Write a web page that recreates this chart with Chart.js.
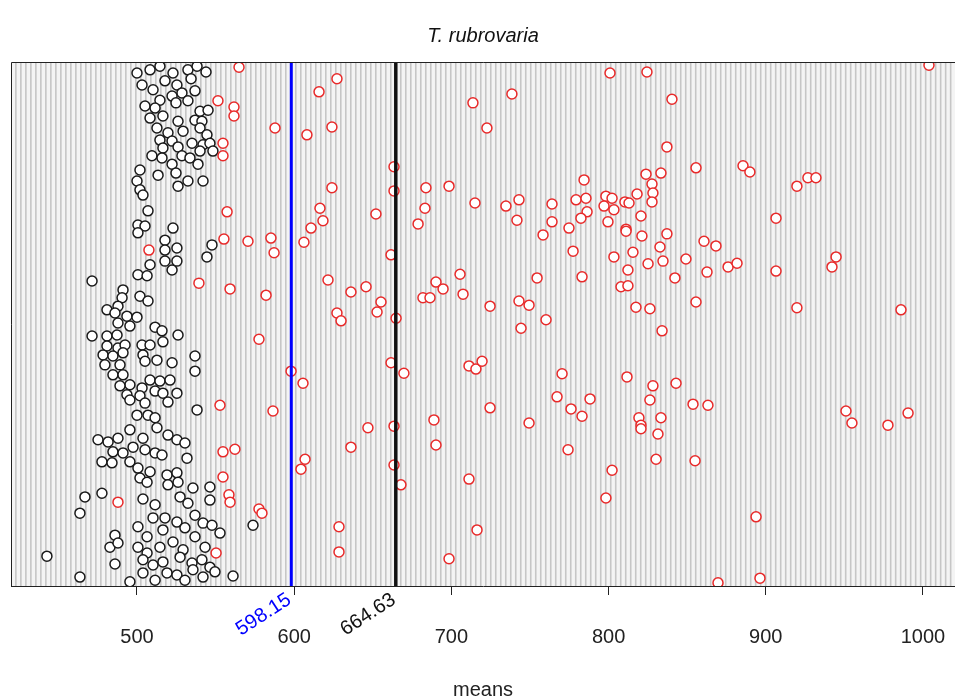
<!DOCTYPE html>
<html>
<head>
<meta charset="utf-8">
<script src="https://cdn.jsdelivr.net/npm/chart.js@4.4.1/dist/chart.umd.min.js"></script>
<style>
  html, body { margin: 0; padding: 0; background: #ffffff; }
  #wrap { width: 955px; height: 700px; }
</style>
</head>
<body>
<div id="wrap"><canvas id="chart" width="955" height="700"></canvas></div>
<script>
// Means of the retained draws (black) and of the rejected draws (red); idx is the draw's vertical slot.
const blackMeans = [
  500.0,508.3,514.6,522.9,532.4,538.2,543.9,503.2,510.2,517.8,525.4,534.4,528.6,536.9,514.6,522.3,
  505.1,511.5,524.8,532.4,540.1,545.2,508.3,516.5,526.1,536.9,541.3,512.7,519.7,529.3,540.1,544.5,
  514.6,522.3,535.0,542.0,546.4,516.5,526.1,540.1,548.3,509.5,515.9,522.3,528.6,533.7,538.8,513.4,
  524.8,532.4,542.0,526.1,501.9,500.0,501.9,503.8,507.0,500.6,505.1,522.9,500.6,517.8,525.4,547.7,
  544.5,517.8,517.8,525.4,522.3,508.3,500.6,506.4,471.4,491.1,490.5,501.9,507.0,480.9,487.9,493.6,
  500.0,486.0,487.9,495.5,471.4,480.9,487.3,511.5,515.9,526.1,516.5,480.9,487.9,492.4,503.2,508.3,
  478.4,484.7,491.1,503.8,512.7,505.1,479.6,489.2,522.3,536.9,536.9,484.7,491.1,508.3,514.6,521.0,
  495.5,489.2,503.2,511.5,525.4,516.5,501.9,493.6,495.5,505.1,519.7,538.2,500.0,507.0,511.5,495.5,
  503.8,512.7,519.7,525.4,530.5,475.2,481.6,487.9,484.7,491.1,497.5,505.1,511.5,515.9,477.7,484.1,
  495.5,500.6,508.3,519.1,525.4,531.8,501.9,506.4,519.7,526.1,535.6,546.4,466.9,477.7,463.7,503.8,
  511.5,527.4,532.4,546.4,510.2,517.8,525.4,536.9,542.0,500.6,506.4,516.5,530.5,547.7,552.8,486.0,
  482.8,487.9,500.6,506.4,514.6,522.9,529.3,536.9,543.3,442.7,486.0,503.8,510.2,516.5,527.4,535.0,
  541.3,546.4,463.7,495.5,503.8,511.5,519.1,525.4,530.5,535.6,542.0,549.6,561.1,573.8
];
const blackIdx = [
  97.9,98.5,99.2,97.9,98.5,99.2,98.1,95.6,94.7,96.4,95.6,96.8,94.1,94.5,92.7,93.5,
  91.6,91.2,92.2,92.6,90.6,90.8,89.3,89.7,88.7,88.9,88.7,87.4,86.5,86.8,87.4,86.1,
  85.1,84.9,84.5,84.2,84.5,83.6,83.8,83.0,83.0,82.1,81.7,80.5,82.1,81.7,80.5,78.4,
  78.8,77.3,77.3,76.3,79.4,77.3,75.6,74.6,71.6,68.9,68.7,68.3,67.4,66.0,64.5,65.1,
  62.8,64.1,62.0,62.0,60.3,61.3,59.4,59.2,58.2,56.5,55.0,55.3,54.4,52.7,53.4,51.5,
  51.3,52.1,50.2,49.6,47.7,47.7,47.9,49.4,48.7,47.9,46.6,45.8,45.4,46.0,46.0,46.0,
  44.1,43.9,44.5,44.1,43.1,42.9,42.2,42.2,42.6,43.9,41.0,40.3,40.3,39.3,39.1,39.3,
  38.4,38.2,37.8,37.2,36.8,36.8,36.3,36.5,35.5,34.9,35.1,33.6,32.6,32.6,32.1,29.8,
  28.2,30.2,28.8,27.9,27.3,27.9,27.5,28.2,25.6,25.4,26.5,26.0,25.4,25.0,23.7,23.5,
  23.7,22.5,21.8,21.2,21.6,24.4,20.6,19.8,19.3,19.8,18.7,18.9,17.0,17.7,13.9,16.6,
  15.5,17.0,15.8,16.4,13.0,13.0,12.2,13.5,12.0,11.3,9.4,10.7,11.1,11.6,10.1,9.7,
  7.4,8.2,7.4,6.3,7.4,8.4,6.9,9.4,7.4,5.7,4.2,5.0,4.0,4.6,5.5,4.4,
  5.0,3.6,1.7,0.8,2.5,1.1,2.5,2.1,1.1,3.1,1.7,2.7,1.9,11.6
];
const redMeans = [
  564.9,551.5,561.7,561.7,587.8,608.1,554.7,554.7,557.3,555.3,570.6,585.2,587.2,606.2,610.7,616.4,
  507.6,539.4,559.2,582.1,577.6,598.0,605.6,552.8,586.5,554.7,562.3,606.9,604.3,554.7,558.5,559.2,
  487.9,577.6,579.5,550.3,627.2,615.8,624.0,713.7,738.5,722.6,800.9,663.5,663.5,624.0,683.8,698.5,
  683.2,678.8,618.3,652.0,715.0,734.7,743.0,741.7,764.0,764.0,758.3,774.8,784.4,779.3,785.6,786.3,
  782.4,777.4,798.3,802.2,797.1,803.4,799.6,810.4,811.1,803.4,812.3,807.9,661.6,621.5,636.1,645.7,
  655.2,652.7,627.2,705.5,690.2,694.7,681.9,686.4,707.4,724.6,743.0,749.4,754.5,783.1,629.8,664.8,
  744.3,760.2,811.7,661.6,669.8,711.2,715.6,719.5,770.4,767.2,776.1,783.1,788.2,724.6,749.4,688.9,
  690.2,646.9,636.1,663.5,663.5,667.9,774.2,802.2,798.3,711.2,716.3,628.5,628.5,698.5,824.4,840.3,
  837.1,855.6,885.5,889.9,823.8,833.3,827.6,818.1,828.2,813.0,827.6,820.6,906.5,919.8,926.8,931.9,
  811.1,821.2,837.1,832.7,815.5,834.6,849.2,860.7,868.3,862.6,825.1,842.2,876.0,881.7,906.5,944.7,
  942.1,812.3,817.4,826.3,855.6,919.8,986.0,1003.8,834.0,828.2,842.9,826.3,853.7,863.2,819.3,820.6,
  820.6,833.3,831.4,830.2,855.0,951.0,954.8,977.7,990.5,893.8,869.6,896.3
];
const redIdx = [
  99.0,92.6,91.4,89.7,87.4,86.1,84.5,82.1,71.4,66.2,65.8,66.4,63.6,65.6,68.3,72.1,
  64.1,57.8,56.7,55.5,47.1,41.0,38.7,34.5,33.4,25.6,26.1,24.2,22.3,20.8,17.4,16.0,
  16.0,14.7,13.9,6.3,96.8,94.3,87.6,92.2,93.9,87.4,97.9,80.0,75.4,76.0,76.0,76.3,
  72.1,69.1,69.7,71.0,73.1,72.5,73.7,69.8,72.9,69.5,67.0,68.3,77.5,73.7,74.0,71.4,
  70.2,63.9,74.4,74.0,72.5,71.8,69.5,73.3,68.1,62.8,60.3,57.1,63.2,58.4,56.1,57.1,
  54.2,52.3,52.1,59.5,58.0,56.7,55.0,55.0,55.7,53.4,54.4,53.6,58.8,59.0,50.6,51.1,
  49.2,50.8,39.9,42.6,40.6,42.0,41.4,42.9,40.5,36.1,33.8,32.4,35.7,34.0,31.1,31.7,
  26.9,30.2,26.5,30.5,23.1,19.3,26.0,22.1,16.8,20.4,10.7,11.3,6.5,5.2,98.1,92.9,
  83.8,79.8,80.2,79.0,78.6,78.8,76.7,74.8,75.0,73.1,73.3,70.6,70.2,76.3,77.9,77.9,
  67.7,66.8,67.2,64.7,63.7,62.0,62.4,65.8,64.9,59.9,61.5,58.8,60.9,61.6,60.1,62.8,
  60.9,57.3,53.2,52.9,54.2,53.1,52.7,99.4,48.7,38.2,38.7,35.5,34.7,34.5,32.1,30.7,
  30.0,32.1,29.0,24.2,23.9,33.4,31.1,30.7,33.0,13.2,0.6,1.5
];
const tickValues = [500, 600, 700, 800, 900, 1000];
const markerValues = [598.15, 664.63];
const markerLabels = ['598.15', '664.63'];
const markerColors = ['#0000ff', '#111111'];

const FONT = "'Liberation Sans', Arial, Helvetica, sans-serif";

function toPoints(xs, ys) {
  return xs.map((x, i) => ({ x: x, y: ys[i] }));
}

// Panel background with fine vertical stripes, drawn before everything else.
const stripedPanel = {
  id: 'stripedPanel',
  beforeDraw(chart) {
    const { ctx, chartArea: a, scales: { x } } = chart;
    ctx.save();
    ctx.fillStyle = '#f4f4f4';
    ctx.fillRect(a.left, a.top, a.right - a.left, a.bottom - a.top);
    ctx.strokeStyle = '#c6c6c6';
    ctx.lineWidth = 1.6;
    const step = 3.18;
    ctx.beginPath();
    for (let v = Math.ceil(x.min / step) * step; v <= x.max; v += step) {
      const px = x.getPixelForValue(v);
      ctx.moveTo(px, a.top);
      ctx.lineTo(px, a.bottom);
    }
    ctx.stroke();
    ctx.restore();
  }
};

// Reference lines at the two means, their rotated labels, and the frame.
const markers = {
  id: 'markers',
  afterDatasetsDraw(chart) {
    const { ctx, chartArea: a, scales: { x } } = chart;
    ctx.save();
    markerValues.forEach((v, i) => {
      const px = x.getPixelForValue(v);
      ctx.strokeStyle = markerColors[i];
      ctx.lineWidth = i === 0 ? 3 : 3.5;
      ctx.beginPath();
      ctx.moveTo(px, a.top);
      ctx.lineTo(px, a.bottom);
      ctx.stroke();
    });
    ctx.restore();
  },
  afterDraw(chart) {
    const { ctx, chartArea: a, scales: { x } } = chart;
    ctx.save();
    ctx.strokeStyle = '#222';
    ctx.lineWidth = 1;
    ctx.beginPath();
    ctx.moveTo(a.left + 0.5, a.bottom);
    ctx.lineTo(a.left + 0.5, a.top + 0.5);
    ctx.lineTo(a.right + 2, a.top + 0.5);
    ctx.stroke();
    ctx.font = '20px ' + FONT;
    ctx.textAlign = 'right';
    ctx.textBaseline = 'middle';
    markerValues.forEach((v, i) => {
      const px = x.getPixelForValue(v);
      ctx.save();
      ctx.translate(px - 2, a.bottom + 12);
      ctx.rotate(-Math.PI * 33 / 180);
      ctx.fillStyle = markerColors[i];
      ctx.fillText(markerLabels[i], 0, 0);
      ctx.restore();
    });
    ctx.restore();
  }
};

new Chart(document.getElementById('chart'), {
  type: 'scatter',
  data: {
    datasets: [
      {
        label: 'rejected',
        data: toPoints(redMeans, redIdx),
        borderColor: '#e82a2a',
        backgroundColor: '#ffffff',
        pointRadius: 5,
        borderWidth: 1.5,
        clip: 0
      },
      {
        label: 'retained',
        data: toPoints(blackMeans, blackIdx),
        borderColor: '#1a1a1a',
        backgroundColor: '#ffffff',
        pointRadius: 5,
        borderWidth: 1.5,
        clip: 0
      }
    ]
  },
  options: {
    responsive: false,
    devicePixelRatio: 1,
    animation: false,
    events: [],
    layout: { autoPadding: false, padding: { left: 11, right: 0, top: 0, bottom: 0 } },
    plugins: {
      legend: { display: false },
      tooltip: { enabled: false },
      title: {
        display: true,
        text: 'T. rubrovaria',
        color: '#111',
        font: { family: FONT, size: 20, style: 'italic', weight: 'normal', lineHeight: 1.2 },
        padding: { top: 24, bottom: 14 }
      }
    },
    scales: {
      x: {
        type: 'linear',
        min: 419.85,
        max: 1020.36,
        afterBuildTicks(scale) {
          scale.ticks = tickValues.map(v => ({ value: v }));
        },
        afterFit(scale) {
          scale.height = 114;
          scale.paddingLeft = 0;
          scale.paddingRight = 0;
        },
        grid: { display: true, drawOnChartArea: false, drawTicks: true, tickLength: 9, tickColor: '#222', tickWidth: 1 },
        border: { display: true, color: '#222', width: 1 },
        ticks: {
          color: '#222',
          font: { family: FONT, size: 20 },
          padding: 30,
          maxRotation: 0,
          autoSkip: false,
          callback: v => String(v)
        },
        title: {
          display: true,
          text: 'means',
          color: '#222',
          font: { family: FONT, size: 20, lineHeight: 1.0 },
          padding: { top: 0, bottom: 0 }
        }
      },
      y: {
        type: 'linear',
        min: 0,
        max: 100,
        display: false
      }
    }
  },
  plugins: [stripedPanel, markers]
});
</script>
</body>
</html>
